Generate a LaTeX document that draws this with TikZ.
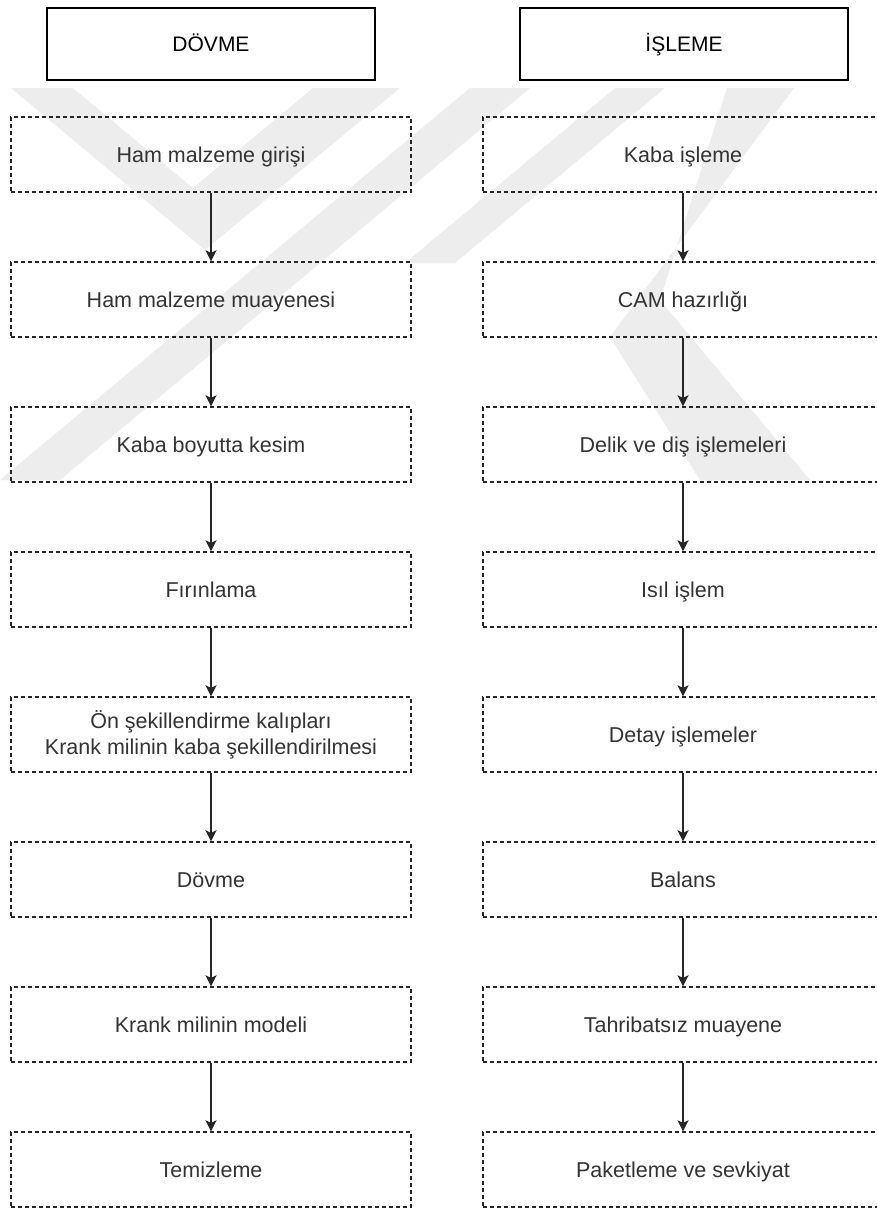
\documentclass[tikz,border=0pt]{standalone}
\usepackage{fontspec}
\setmainfont{Liberation Sans}
\usetikzlibrary{arrows.meta}
\definecolor{wm}{HTML}{EDEDED}
\definecolor{txt}{HTML}{333333}
\tikzset{
  head/.style={draw=black, line width=1.5pt, minimum width=328pt, minimum height=72pt,
    inner sep=0pt, text=black, font=\fontsize{21}{25}\selectfont,
    text height=15pt, text depth=0pt},
  stepbox/.style={draw=black!85, line width=1.3pt, dash pattern=on 4pt off 3pt,
    minimum width=400pt, minimum height=75pt, inner sep=0pt, align=center,
    text=txt, font=\fontsize{21.5}{26}\selectfont},
  oneline/.style={text height=15.4pt, text depth=0pt},
  flow/.style={draw=black!85, line width=1.8pt,
    -{Stealth[length=11pt,width=11pt,inset=2.5pt]}},
}
\begin{document}
\begin{tikzpicture}[x=1pt, y=-1pt]
\useasboundingbox (0,0) rectangle (877,1210);
\clip (0,0) rectangle (877,1210);
\fill[white] (0,0) rectangle (877,1210);

% background emblem
\fill[wm] (11,88) -- (73,88) -- (193,188) -- (313,88) -- (400,88) -- (205,250) -- cycle;
\fill[wm] (470,88) -- (530,88) -- (60,480) -- (0,480) -- cycle;
\fill[wm] (615,88) -- (665,88) -- (455,263) -- (405,263) -- cycle;
\fill[wm] (727,88) -- (794,88) -- (610,337) -- (700,480) -- (810,480) -- (660,300) -- cycle;

% column headers
\node[head] (h1) at (211,44) {DÖVME};
\node[head] (h2) at (684,44) {İŞLEME};

% forging steps
\node[stepbox,oneline] (a1) at (211,154.5) {Ham malzeme girişi};
\node[stepbox,oneline] (a2) at (211,299.5) {Ham malzeme muayenesi};
\node[stepbox,oneline] (a3) at (211,444.5) {Kaba boyutta kesim};
\node[stepbox,oneline] (a4) at (211,589.5) {Fırınlama};
\node[stepbox] (a5) at (211,734.5) {Ön şekillendirme kalıpları\\Krank milinin kaba şekillendirilmesi};
\node[stepbox,oneline] (a6) at (211,879.5) {Dövme};
\node[stepbox,oneline] (a7) at (211,1024.5) {Krank milinin modeli};
\node[stepbox,oneline] (a8) at (211,1169.5) {Temizleme};

% machining steps
\node[stepbox,oneline] (b1) at (683,154.5) {Kaba işleme};
\node[stepbox,oneline] (b2) at (683,299.5) {CAM hazırlığı};
\node[stepbox,oneline] (b3) at (683,444.5) {Delik ve diş işlemeleri};
\node[stepbox,oneline] (b4) at (683,589.5) {Isıl işlem};
\node[stepbox,oneline] (b5) at (683,734.5) {Detay işlemeler};
\node[stepbox,oneline] (b6) at (683,879.5) {Balans};
\node[stepbox,oneline] (b7) at (683,1024.5) {Tahribatsız muayene};
\node[stepbox,oneline] (b8) at (683,1169.5) {Paketleme ve sevkiyat};

\foreach \i/\j in {1/2,2/3,3/4,4/5,5/6,6/7,7/8}{
  \draw[flow] (a\i.south) -- (a\j.north);
  \draw[flow] (b\i.south) -- (b\j.north);
}
\end{tikzpicture}
\end{document}
